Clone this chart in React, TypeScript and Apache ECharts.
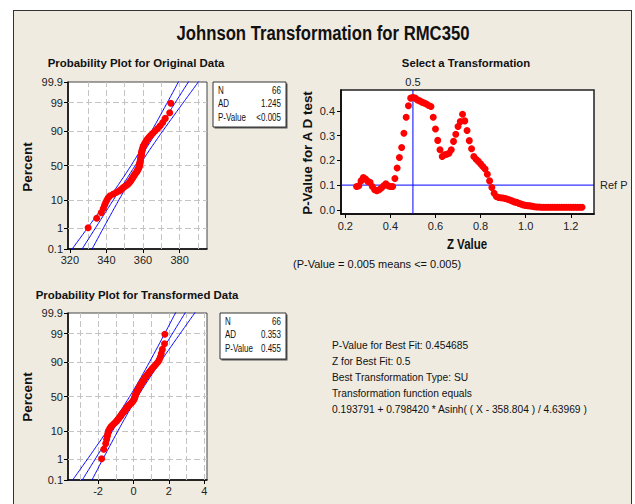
import React, { useEffect, useRef } from "react";
import * as echarts from "echarts";

// ---------- data ----------
const ORIGINAL: number[] = [
  330.0, 334.7, 337.2, 338.3, 339.0, 339.6, 340.3, 341.0, 342.0, 343.8,
  345.6, 347.2, 348.3, 349.2, 350.2, 351.3, 352.1, 352.7, 353.2, 353.6,
  354.0, 354.4, 354.8, 355.2, 355.5, 356.0, 356.4, 356.8, 357.1, 357.4,
  357.7, 357.9, 358.0, 358.1, 358.2, 358.3, 358.4, 358.5, 358.6, 358.7,
  358.8, 358.9, 359.0, 359.1, 359.2, 359.3, 359.4, 359.6, 359.8, 360.0,
  360.2, 360.6, 361.0, 361.5, 362.0, 362.6, 363.4, 364.3, 365.4, 366.6,
  368.0, 369.4, 370.8, 372.2, 374.6, 375.2,
];
const TRANSFORMED: number[] = [
  -1.80, -1.68, -1.57, -1.52, -1.48, -1.45, -1.42, -1.35, -1.28, -1.18,
  -1.08, -0.98, -0.91, -0.84, -0.78, -0.72, -0.68, -0.62, -0.56, -0.50,
  -0.46, -0.42, -0.38, -0.32, -0.26, -0.20, -0.14, -0.08, -0.03, 0.01,
  0.04, 0.06, 0.08, 0.09, 0.11, 0.13, 0.16, 0.19, 0.22, 0.25,
  0.28, 0.31, 0.34, 0.38, 0.42, 0.46, 0.50, 0.54, 0.58, 0.63,
  0.68, 0.74, 0.80, 0.86, 0.93, 1.00, 1.08, 1.17, 1.27, 1.38,
  1.46, 1.52, 1.57, 1.63, 1.75, 1.77,
];
const Z_VALUES: number[] = [
  0.25, 0.26, 0.27, 0.28, 0.29, 0.30, 0.31, 0.32, 0.33, 0.34,
  0.35, 0.36, 0.37, 0.38, 0.39, 0.40, 0.41, 0.42, 0.43, 0.44,
  0.45, 0.46, 0.47, 0.48, 0.49, 0.50, 0.51, 0.52, 0.53, 0.54,
  0.55, 0.56, 0.57, 0.58, 0.59, 0.60, 0.61, 0.62, 0.63, 0.64,
  0.65, 0.66, 0.67, 0.68, 0.69, 0.70, 0.71, 0.72, 0.73, 0.74,
  0.75, 0.76, 0.77, 0.78, 0.79, 0.80, 0.81, 0.82, 0.83, 0.84,
  0.85, 0.86, 0.87, 0.88, 0.89, 0.90, 0.91, 0.92, 0.93, 0.94,
  0.95, 0.96, 0.97, 0.98, 0.99, 1.00, 1.01, 1.02, 1.03, 1.04,
  1.05, 1.06, 1.07, 1.08, 1.09, 1.10, 1.11, 1.12, 1.13, 1.14,
  1.15, 1.16, 1.17, 1.18, 1.19, 1.20, 1.21, 1.22, 1.23, 1.24,
  1.25,
];
const P_VALUES: number[] = [
  0.094, 0.097, 0.117, 0.131, 0.125, 0.115, 0.111, 0.094, 0.081, 0.077,
  0.081, 0.088, 0.097, 0.105, 0.097, 0.094, 0.094, 0.127, 0.169, 0.212,
  0.252, 0.310, 0.375, 0.421, 0.452, 0.455, 0.452, 0.445, 0.441, 0.436,
  0.432, 0.428, 0.422, 0.418, 0.375, 0.327, 0.281, 0.243, 0.216, 0.223,
  0.225, 0.229, 0.243, 0.277, 0.306, 0.337, 0.357, 0.387, 0.360, 0.321,
  0.280, 0.247, 0.216, 0.205, 0.196, 0.186, 0.175, 0.165, 0.144, 0.117,
  0.090, 0.067, 0.054, 0.050, 0.049, 0.048, 0.046, 0.043, 0.040, 0.036,
  0.032, 0.030, 0.026, 0.023, 0.020, 0.018, 0.017, 0.016, 0.014, 0.012,
  0.011, 0.011, 0.010, 0.010, 0.010, 0.010, 0.010, 0.010, 0.010, 0.010,
  0.010, 0.010, 0.010, 0.010, 0.010, 0.010, 0.010, 0.010, 0.010, 0.010,
  0.010,
];

const PCT_TICKS: number[] = [0.1, 1, 10, 50, 90, 99, 99.9];
const PCT_LABELS: string[] = ["0.1", "1", "10", "50", "90", "99", "99.9"];
const PCT_GRID: number[] = [1, 10, 50, 90, 99];
const ORIG_X_LABELS: number[] = [320, 340, 360, 380];
const ORIG_X_GRID: number[] = [330, 340, 350, 360, 370, 380, 390];
const TRANS_X_LABELS: number[] = [-2, 0, 2, 4];
const TRANS_X_GRID: number[] = [-3, -2, -1, 0, 1, 2, 3, 4];
const Z_LABELS: number[] = [0.2, 0.4, 0.6, 0.8, 1.0, 1.2];
const P_LABELS: number[] = [0, 0.1, 0.2, 0.3, 0.4];
const REF_P = 0.1;
const BEST_Z = 0.5;

const ORIG_STATS = [["N", "66"], ["AD", "1.245"], ["P-Value", "<0.005"]];
const TRANS_STATS = [["N", "66"], ["AD", "0.353"], ["P-Value", "0.455"]];
const SUMMARY_LINES = [
  "P-Value for Best Fit: 0.454685",
  "Z for Best Fit: 0.5",
  "Best Transformation Type: SU",
  "Transformation function equals",
  "0.193791 + 0.798420 * Asinh( ( X - 358.804 ) / 4.63969 )",
];

// ---------- helpers ----------
function normInv(p: number): number {
  const a = [-3.969683028665376e1, 2.209460984245205e2, -2.759285104469687e2, 1.38357751867269e2, -3.066479806614716e1, 2.506628277459239];
  const b = [-5.447609879822406e1, 1.615858368580409e2, -1.556989798598866e2, 6.680131188771972e1, -1.328068155288572e1];
  const c = [-7.784894002430293e-3, -3.223964580411365e-1, -2.400758277161838, -2.549671010115818, 4.374664141464968, 2.938163982698783];
  const d = [7.784695709041462e-3, 3.224671290700398e-1, 2.445134137142996, 3.754408661907416];
  const plow = 0.02425;
  if (p < plow) {
    const q = Math.sqrt(-2 * Math.log(p));
    return (((((c[0] * q + c[1]) * q + c[2]) * q + c[3]) * q + c[4]) * q + c[5]) / ((((d[0] * q + d[1]) * q + d[2]) * q + d[3]) * q + 1);
  }
  if (p > 1 - plow) {
    const q = Math.sqrt(-2 * Math.log(1 - p));
    return -(((((c[0] * q + c[1]) * q + c[2]) * q + c[3]) * q + c[4]) * q + c[5]) / ((((d[0] * q + d[1]) * q + d[2]) * q + d[3]) * q + 1);
  }
  const q = p - 0.5;
  const r = q * q;
  return ((((((a[0] * r + a[1]) * r + a[2]) * r + a[3]) * r + a[4]) * r + a[5]) * q) / (((((b[0] * r + b[1]) * r + b[2]) * r + b[3]) * r + b[4]) * r + 1);
}

const SANS = "'Liberation Sans',Arial,sans-serif";

const PCT_Z = PCT_TICKS.map((p) => normInv(p / 100));
const Z_MIN = PCT_Z[0];
const Z_MAX = PCT_Z[PCT_Z.length - 1];
const ZX_MIN = 0.181;
const ZX_MAX = 1.303;
const PY_MIN = -0.017;
const PY_MAX = 0.485;

function pctLabel(v: number): string {
  let best = 0;
  let bd = Infinity;
  PCT_Z.forEach((z, i) => {
    const dd = Math.abs(z - v);
    if (dd < bd) { bd = dd; best = i; }
  });
  return bd < 1e-3 ? PCT_LABELS[best] : "";
}

function stats(arr: number[]) {
  const n = arr.length;
  const m = arr.reduce((s, v) => s + v, 0) / n;
  const sd = Math.sqrt(arr.reduce((s, v) => s + (v - m) * (v - m), 0) / (n - 1));
  return { n, m, sd };
}

function probPoints(arr: number[]) {
  const n = arr.length;
  const sorted = [...arr].sort((x, y) => x - y);
  return sorted.map((v, i) => [v, normInv((i + 1 - 0.3) / (n + 0.4))]);
}

function fitLines(arr: number[]) {
  const { n, m, sd } = stats(arr);
  const center: number[][] = [];
  const lo: number[][] = [];
  const hi: number[][] = [];
  for (let k = -70; k <= 70; k++) {
    const z = k * 0.05;
    const x = m + z * sd;
    const w = 1.96 * sd * Math.sqrt((1 + (z * z) / 2) / n);
    center.push([x, z]);
    lo.push([x - w, z]);
    hi.push([x + w, z]);
  }
  return { center, lo, hi };
}

function gridSeries(xs: number[], xmin: number, xmax: number, idx: number) {
  const data: any[] = [];
  xs.forEach((x) => data.push({ coords: [[x, Z_MIN], [x, Z_MAX]] }));
  PCT_GRID.forEach((p) => {
    const z = normInv(p / 100);
    data.push({ coords: [[xmin, z], [xmax, z]] });
  });
  return {
    type: "lines",
    coordinateSystem: "cartesian2d",
    xAxisIndex: idx,
    yAxisIndex: idx,
    silent: true,
    z: 1,
    lineStyle: { color: "#c4c4c4", width: 1, type: [6, 3], opacity: 1 },
    data,
  };
}

function lineSeries(d: number[][], idx: number) {
  return {
    type: "line",
    xAxisIndex: idx,
    yAxisIndex: idx,
    data: d,
    showSymbol: false,
    symbol: "none",
    clip: true,
    silent: true,
    z: 2,
    lineStyle: { color: "#0000ff", width: 1 },
  };
}

function probSeries(arr: number[], idx: number) {
  const f = fitLines(arr);
  return [
    lineSeries(f.center, idx),
    lineSeries(f.lo, idx),
    lineSeries(f.hi, idx),
    {
      type: "scatter",
      xAxisIndex: idx,
      yAxisIndex: idx,
      data: probPoints(arr),
      symbolSize: 7,
      z: 3,
      itemStyle: { color: "#ff0000", opacity: 1 },
    },
  ];
}

const tickLabel = { color: "#222", fontSize: 11, fontFamily: SANS };

function probXAxis(idx: number, min: number, max: number, labels: number[]) {
  return {
    type: "value",
    gridIndex: idx,
    min,
    max,
    axisLine: { show: true, onZero: false, lineStyle: { color: "#000", width: 1.5 } },
    axisTick: { show: true, customValues: labels, length: 4, lineStyle: { color: "#000" } },
    axisLabel: { ...tickLabel, customValues: labels, margin: 5, formatter: (v: number) => String(v), showMinLabel: true, showMaxLabel: true },
    splitLine: { show: false },
  };
}

function probYAxis(idx: number) {
  return {
    type: "value",
    gridIndex: idx,
    min: Z_MIN,
    max: Z_MAX,
    axisLine: { show: true, onZero: false, lineStyle: { color: "#000", width: 1.5 } },
    axisTick: { show: true, customValues: PCT_Z, length: 4, lineStyle: { color: "#000" } },
    axisLabel: { ...tickLabel, customValues: PCT_Z, margin: 5, formatter: (v: number) => pctLabel(v), showMinLabel: true, showMaxLabel: true },
    splitLine: { show: false },
  };
}

function txt(x: number, y: number, text: string, font: string, align = "center", rotation = 0, scaleX = 1) {
  return { type: "text", x, y, rotation, scaleX, z: 10, style: { text, font, fill: "#111", align, verticalAlign: "middle" } };
}

function statBox(x: number, y: number, w: number, h: number, rows: string[][]) {
  const els: any[] = [
    { type: "rect", z: 9, shape: { x: x + 1.5, y: y + 1.5, width: w, height: h }, style: { fill: "#555" } },
    { type: "rect", z: 9, shape: { x, y, width: w, height: h }, style: { fill: "#fff", stroke: "#333", lineWidth: 1 } },
  ];
  rows.forEach((r, i) => {
    const ty = y + 8.5 + i * 13.5;
    els.push(txt(x + 5, ty, r[0], `10px ${SANS}`, "left", 0, 0.8));
    els.push(txt(x + w - 5, ty, r[1], `10px ${SANS}`, "right", 0, 0.8));
  });
  return els;
}

export default function App() {
  const ref = useRef<HTMLDivElement>(null);
  useEffect(() => {
    if (!ref.current) return;
    const chart = echarts.init(ref.current, null, { renderer: "svg" });
    const lbl = { show: true, color: "#222", fontSize: 11, fontFamily: SANS, opacity: 1 };
    const option: any = {
      animation: false,
      backgroundColor: "transparent",
      grid: [
        { left: 68, top: 82, width: 139, height: 167, show: true, backgroundColor: "#fff", borderColor: "#444", borderWidth: 1 },
        { left: 341, top: 90, width: 253, height: 124, show: true, backgroundColor: "#fff", borderColor: "#222", borderWidth: 1.5 },
        { left: 68, top: 313, width: 139, height: 167, show: true, backgroundColor: "#fff", borderColor: "#444", borderWidth: 1 },
      ],
      xAxis: [
        probXAxis(0, 319, 395, ORIG_X_LABELS),
        {
          type: "value",
          gridIndex: 1,
          min: ZX_MIN,
          max: ZX_MAX,
          axisLine: { show: true, onZero: false, lineStyle: { color: "#000", width: 1.5 } },
          axisTick: { show: true, customValues: Z_LABELS, length: 4, lineStyle: { color: "#000" } },
          axisLabel: { ...tickLabel, customValues: Z_LABELS, margin: 6, formatter: (v: number) => v.toFixed(1) },
          splitLine: { show: false },
        },
        probXAxis(2, -3.7, 4.15, TRANS_X_LABELS),
      ],
      yAxis: [
        probYAxis(0),
        {
          type: "value",
          gridIndex: 1,
          min: PY_MIN,
          max: PY_MAX,
          axisLine: { show: true, onZero: false, lineStyle: { color: "#000", width: 1.5 } },
          axisTick: { show: true, customValues: P_LABELS, length: 4, lineStyle: { color: "#000" } },
          axisLabel: { ...tickLabel, customValues: P_LABELS, margin: 6, formatter: (v: number) => v.toFixed(1) },
          splitLine: { show: false },
        },
        probYAxis(2),
      ],
      series: [
        gridSeries(ORIG_X_GRID, 319, 395, 0),
        ...probSeries(ORIGINAL, 0),
        gridSeries(TRANS_X_GRID, -3.7, 4.15, 2),
        ...probSeries(TRANSFORMED, 2),
        lineSeries([[ZX_MIN, REF_P], [ZX_MAX, REF_P]], 1),
        lineSeries([[BEST_Z, PY_MIN], [BEST_Z, PY_MAX]], 1),
        {
          type: "scatter",
          xAxisIndex: 1,
          yAxisIndex: 1,
          data: Z_VALUES.map((z, i) => [z, P_VALUES[i]]),
          symbolSize: 7,
          z: 3,
          itemStyle: { color: "#ff0000", opacity: 1 },
        },
        {
          type: "scatter",
          xAxisIndex: 1,
          yAxisIndex: 1,
          silent: true,
          clip: false,
          symbol: "circle",
          symbolSize: 2,
          itemStyle: { color: "rgba(0,0,0,0)", opacity: 1 },
          z: 4,
          data: [
            { value: [ZX_MAX, REF_P], label: { ...lbl, position: "right", distance: 5, formatter: "Ref P" } },
            { value: [BEST_Z, PY_MAX], label: { ...lbl, position: "top", distance: 2, formatter: String(BEST_Z) } },
          ],
        },
      ],
      graphic: {
        elements: [
          txt(323, 33, "Johnson Transformation for RMC350", `bold 20px ${SANS}`, "center", 0, 0.835),
          txt(136, 63.5, "Probability Plot for Original Data", `bold 11px ${SANS}`, "center", 0, 1.04),
          txt(466, 63.5, "Select a Transformation", `bold 11px ${SANS}`, "center", 0, 1.03),
          txt(137, 295, "Probability Plot for Transformed Data", `bold 11px ${SANS}`, "center", 0, 1.04),
          txt(28, 167, "Percent", `bold 12px ${SANS}`, "center", Math.PI / 2, 1.12),
          txt(28, 397, "Percent", `bold 12px ${SANS}`, "center", Math.PI / 2, 1.12),
          txt(308, 153, "P-Value for A D test", `bold 12px ${SANS}`, "center", Math.PI / 2, 1.12),
          txt(467, 244, "Z Value", `bold 14px ${SANS}`, "center", 0, 0.82),
          txt(293, 263.5, "(P-Value = 0.005 means <= 0.005)", `11px ${SANS}`, "left", 0, 1.0),
          ...SUMMARY_LINES.map((s, i) => txt(332, 345 + i * 16, s, `11px ${SANS}`, "left", 0, 0.93)),
          ...statBox(213, 82, 73, 45, ORIG_STATS),
          ...statBox(220, 313, 66, 46, TRANS_STATS),
        ],
      },
    };
    chart.setOption(option);
    return () => chart.dispose();
  }, []);

  return (
    <div style={{ position: "absolute", left: 0, top: 0, width: 635, height: 504, background: "#fff", overflow: "hidden" }}>
      <div
        style={{
          position: "absolute",
          left: 13,
          top: 10,
          width: 619,
          height: 520,
          background: "#efebe1",
          border: "1.5px solid #333",
          boxSizing: "border-box",
        }}
      />
      <div ref={ref} style={{ position: "absolute", left: 0, top: 0, width: 635, height: 504 }} />
    </div>
  );
}
